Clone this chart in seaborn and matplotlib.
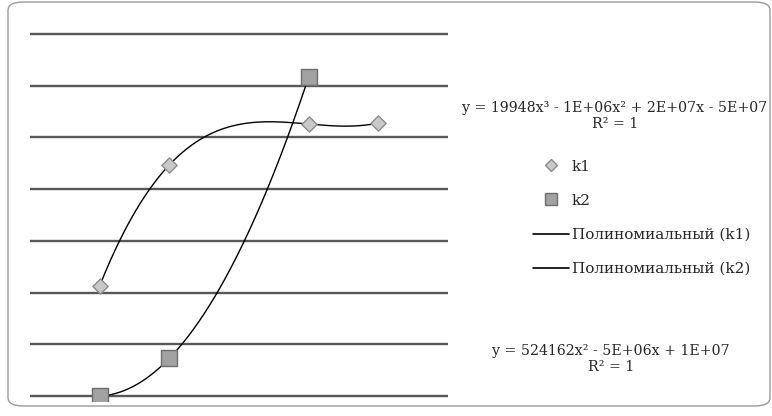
import numpy as np
import pandas as pd
import matplotlib
matplotlib.use('Agg')
import matplotlib.pyplot as plt
import seaborn as sns
from matplotlib.patches import FancyBboxPatch
from matplotlib.lines import Line2D

# values (grid units)
x_k1 = [1, 2, 4, 5]
y_k1 = [2.13, 4.47, 5.26, 5.28]
x_k2 = [1, 2, 4]
y_k2 = [0.0, 0.73, 6.17]
grid_levels = [0, 1, 2, 3, 4, 5, 6, 7]

eq_k1 = "y = 19948x³ - 1E+06x² + 2E+07x - 5E+07\nR² = 1"
eq_k2 = "y = 524162x² - 5E+06x + 1E+07\nR² = 1"
labels = ['k1', 'k2', 'Полиномиальный (k1)', 'Полиномиальный (k2)']

sns.set_style("white")
plt.rcParams['font.family'] = ['DejaVu Serif']

fig = plt.figure(figsize=(7.72, 4.16), dpi=100)
W, H = 772, 416

# rounded chart frame, kept behind the axes
frame = FancyBboxPatch((8 / W, 10 / H), 762 / W, 404 / H,
                       boxstyle="round,pad=0,rounding_size=0.02",
                       transform=fig.transFigure, facecolor='white',
                       edgecolor='#9a9a9a', linewidth=1.0, zorder=-5)
fig.patches.append(frame)

ax = fig.add_axes([30 / W, (416 - 401.2) / H, 418 / W, 372.3 / H])
ax.set_xlim(0, 6)
ax.set_ylim(-0.1, 7.1)
for g in grid_levels:
    ax.axhline(g, color='#585858', lw=1.7, zorder=1)
ax.set_xticks([])
ax.set_yticks([])
sns.despine(ax=ax, left=True, bottom=True)
ax.patch.set_alpha(0)

# polynomial trend lines (exact fits)
c1 = np.polyfit(x_k1, y_k1, 3)
c2 = np.polyfit(x_k2, y_k2, 2)
xs1 = np.linspace(min(x_k1), max(x_k1), 200)
xs2 = np.linspace(min(x_k2), max(x_k2), 200)
trend = pd.DataFrame({'x': np.concatenate([xs1, xs2]),
                      'y': np.concatenate([np.polyval(c1, xs1), np.polyval(c2, xs2)]),
                      's': ['k1'] * len(xs1) + ['k2'] * len(xs2)})
sns.lineplot(data=trend, x='x', y='y', units='s', estimator=None, color='black',
             lw=1.0, ax=ax, zorder=3, legend=False)

sns.scatterplot(x=x_k1, y=y_k1, marker='D', s=60, color='#c9c9c9',
                edgecolor='#8c8c8c', linewidth=1.0, ax=ax, zorder=4)
sns.scatterplot(x=x_k2, y=y_k2, marker='s', s=140, color='#a2a2a2',
                edgecolor='#6e6e6e', linewidth=1.0, ax=ax, zorder=4)

handles = [
    Line2D([], [], ls='none', marker='D', ms=6, mfc='#c9c9c9', mec='#8c8c8c'),
    Line2D([], [], ls='none', marker='s', ms=8, mfc='#a2a2a2', mec='#6e6e6e'),
    Line2D([], [], color='black', lw=1.2),
    Line2D([], [], color='black', lw=1.2),
]
fig.legend(handles, labels, loc='upper left', bbox_to_anchor=(525 / W, 1 - 152 / H),
           frameon=False, fontsize=11, handlelength=2.4, handletextpad=0.15,
           labelspacing=1.32, borderpad=0)

fig.text(615 / W, 1 - 116 / H, eq_k1, ha='center', va='center', fontsize=10.2,
         linespacing=1.15)
fig.text(611 / W, 1 - 359 / H, eq_k2, ha='center', va='center', fontsize=10.2,
         linespacing=1.15)

fig.savefig('out.png', dpi=100)
